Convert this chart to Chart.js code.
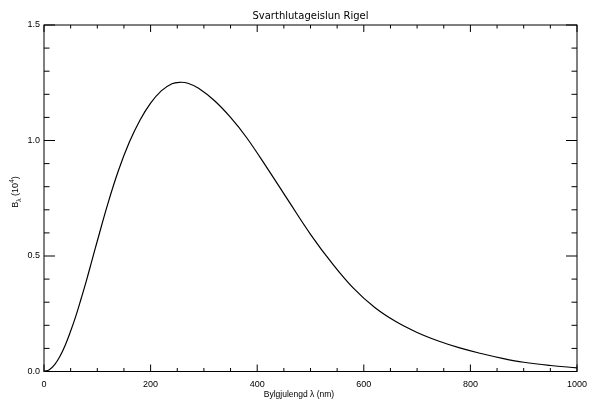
<!DOCTYPE html>
<html>
<head>
<meta charset="utf-8">
<script src="https://cdn.jsdelivr.net/npm/chart.js@4.4.0/dist/chart.umd.min.js"></script>
<style>
  html, body { margin: 0; padding: 0; background: #fff; }
  #wrap { width: 590px; height: 400px; }
</style>
</head>
<body>
<div id="wrap"><canvas id="planck" width="590" height="400"></canvas></div>
<script>
// === ДАННЫЕ ===
const wavelength = [0, 10, 20, 30, 40, 50, 60, 70, 80, 90, 100, 120, 140, 160, 180, 200, 220, 240, 255,
                    270, 290, 320, 350, 380, 420, 460, 500, 540, 580, 620, 660, 700, 740, 780, 820, 860, 900, 950, 1000];
const intensity  = [0, 0.008, 0.03, 0.066, 0.115, 0.175, 0.242, 0.318, 0.397, 0.481, 0.565, 0.728, 0.872, 0.992, 1.088, 1.162, 1.215, 1.246, 1.252,
                    1.248, 1.226, 1.172, 1.100, 1.013, 0.876, 0.734, 0.594, 0.47, 0.362, 0.278, 0.216, 0.169, 0.132, 0.102, 0.078, 0.057, 0.040, 0.026, 0.016];
const xTickLabels = [0, 200, 400, 600, 800, 1000];
const yTickLabels = [0.0, 0.5, 1.0, 1.5];

const TITLE = 'Svarthlutageislun Rigel';
const FONT = 'DejaVu Sans';
const FONT_NUM = 'Liberation Sans';

// рамка, засечки внутрь (как в IDL) и подписи
const idlFrame = {
    id: 'idlFrame',
    afterDraw(chart) {
        const { ctx, chartArea: a, scales: { x, y } } = chart;
        ctx.save();
        ctx.strokeStyle = '#000';
        ctx.lineWidth = 1;
        ctx.strokeRect(a.left, a.top, a.right - a.left, a.bottom - a.top);

        ctx.beginPath();
        for (let v = 0; v <= 1000; v += 50) {
            const px = x.getPixelForValue(v);
            const len = xTickLabels.includes(v) ? 7 : 3.5;
            ctx.moveTo(px, a.bottom); ctx.lineTo(px, a.bottom - len);
            ctx.moveTo(px, a.top); ctx.lineTo(px, a.top + len);
        }
        for (let i = 0; i <= 15; i++) {
            const py = y.getPixelForValue(i / 10);
            const len = (i % 5 === 0) ? 11 : 5.5;
            ctx.moveTo(a.left, py); ctx.lineTo(a.left + len, py);
            ctx.moveTo(a.right, py); ctx.lineTo(a.right - len, py);
        }
        ctx.stroke();

        ctx.fillStyle = '#000';
        ctx.textBaseline = 'alphabetic';
        ctx.textAlign = 'center';

        // заголовок по центру области графика
        ctx.font = `10px "${FONT}"`;
        ctx.fillText(TITLE, (a.left + a.right) / 2, 19);

        // подпись оси X
        ctx.font = `8.5px "${FONT_NUM}"`;
        ctx.fillText('Bylgjulengd λ (nm)', 299, 396.5);

        // подпись оси Y с индексами
        const parts = [
            { t: 'B', s: 9, dy: 0 },
            { t: 'λ', s: 6.5, dy: 2.5 },
            { t: ' (10', s: 9, dy: 0 },
            { t: '4', s: 6.5, dy: -4 },
            { t: ')', s: 9, dy: 0 }
        ];
        let total = 0;
        parts.forEach(p => { ctx.font = `${p.s}px "${FONT_NUM}"`; p.w = ctx.measureText(p.t).width; total += p.w; });
        ctx.translate(18, 192);
        ctx.rotate(-Math.PI / 2);
        ctx.textAlign = 'left';
        let cx = -total / 2;
        parts.forEach(p => { ctx.font = `${p.s}px "${FONT_NUM}"`; ctx.fillText(p.t, cx, p.dy); cx += p.w; });
        ctx.restore();
    }
};

new Chart(document.getElementById('planck'), {
    type: 'line',
    data: {
        datasets: [{
            data: wavelength.map((w, i) => ({ x: w, y: intensity[i] })),
            borderColor: '#000',
            borderWidth: 1.2,
            pointRadius: 0,
            fill: false,
            tension: 0.4
        }]
    },
    options: {
        responsive: false,
        animation: false,
        layout: { padding: { left: 0, right: 13, top: 25, bottom: 0 } },
        plugins: {
            legend: { display: false },
            tooltip: { enabled: false },
            title: { display: false }
        },
        scales: {
            x: {
                type: 'linear', min: 0, max: 1000,
                afterFit: s => { s.height = 28.5; s.paddingLeft = 0; s.paddingRight = 0; },
                afterBuildTicks: s => { s.ticks = xTickLabels.map(v => ({ value: v })); },
                grid: { display: false, drawTicks: false },
                border: { display: false },
                ticks: { color: '#000', font: { family: FONT_NUM, size: 9 }, padding: 8, maxRotation: 0,
                         callback: v => String(v) }
            },
            y: {
                type: 'linear', min: 0, max: 1.5,
                afterFit: s => { s.width = 44; s.paddingTop = 0; s.paddingBottom = 0; },
                afterBuildTicks: s => { s.ticks = yTickLabels.map(v => ({ value: v })); },
                grid: { display: false, drawTicks: false },
                border: { display: false },
                ticks: { color: '#000', font: { family: FONT_NUM, size: 9 }, padding: 4,
                         callback: v => Number(v).toFixed(1) }
            }
        }
    },
    plugins: [idlFrame]
});
</script>
</body>
</html>
